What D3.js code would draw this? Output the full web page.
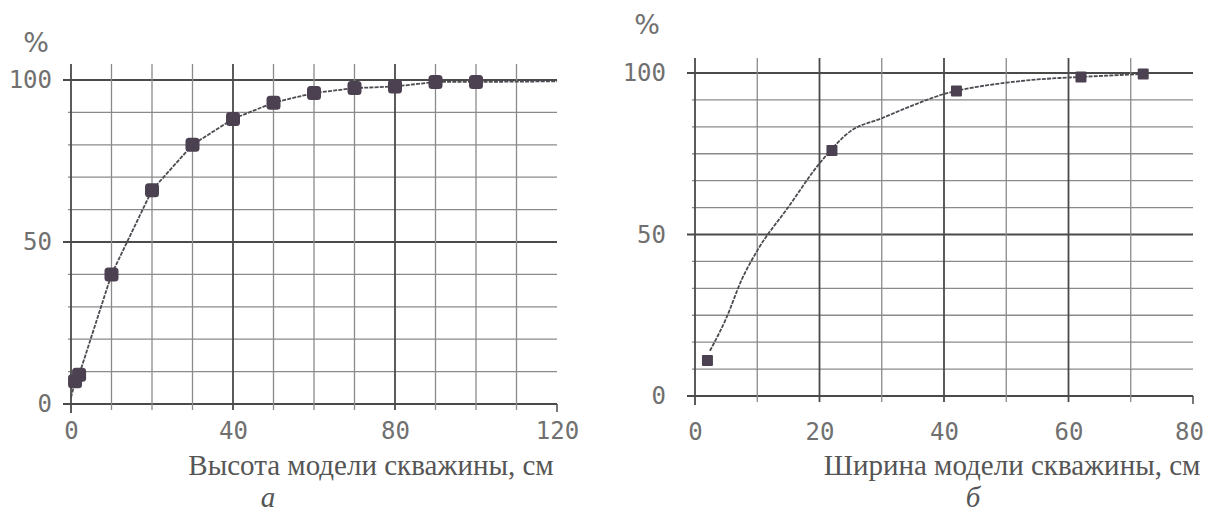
<!DOCTYPE html>
<html>
<head>
<meta charset="utf-8">
<script src="https://cdn.jsdelivr.net/npm/d3@7"></script>
<style>
  body { margin: 0; background: #fff; }
  svg { display: block; }
</style>
</head>
<body>
<svg id="chart" width="1206" height="515"></svg>
<script>
// panel a: height of the well model
var leftX = [1, 2, 10, 20, 30, 40, 50, 60, 70, 80, 90, 100];
var leftY = [7, 9, 40, 66, 80, 88, 93, 96, 97.5, 98, 99.4, 99.4];
var leftLineX = [0, 1, 2, 10, 20, 30, 40, 50, 60, 70, 80, 90, 100, 120];
var leftLineY = [2, 7, 9, 40, 66, 80, 88, 93, 96, 97.5, 98, 99.4, 99.4, 99.6];
var leftXTicks = [0, 40, 80, 120];
var leftYTicks = [0, 50, 100];

// panel б: width of the well model
var rightX = [2, 22, 42, 62, 72];
var rightY = [11, 76, 94.4, 98.8, 99.7];
var rightLineX = [2.4, 5, 7.5, 10, 15, 20, 25, 30, 35, 40, 45, 50, 55, 60, 62, 72];
var rightLineY = [14, 24, 36, 45, 58.5, 72, 82, 86, 90, 93.5, 95.6, 97, 98, 98.6, 98.8, 99.7];
var rightXTicks = [0, 20, 40, 60, 80];
var rightYTicks = [0, 50, 100];

var svg = d3.select('#chart');

function drawPanel (p)
{
    let x = d3.scaleLinear().domain([0, p.xMax]).range([p.left, p.right]);
    let y = d3.scaleLinear().domain([0, 100]).range([p.bottom, p.top]);
    let g = svg.append('g');

    // horizontal grid
    p.yGrid.forEach(function (v) {
        let major = p.yTicks.indexOf(Math.round(v * 100) / 100) >= 0;
        g.append('line')
            .attr('x1', major ? p.left - 8 : p.left - 3)
            .attr('x2', p.right)
            .attr('y1', y(v)).attr('y2', y(v))
            .attr('stroke', major ? '#4a4a4a' : '#8a8a8a')
            .attr('stroke-width', major ? 2 : 1.3);
    });

    // vertical grid
    p.xGrid.forEach(function (v) {
        let major = p.xMajor.indexOf(v) >= 0;
        g.append('line')
            .attr('x1', x(v)).attr('x2', x(v))
            .attr('y1', p.top - p.over)
            .attr('y2', v === 0 ? p.bottom + 9 : p.bottom + 6)
            .attr('stroke', major ? '#4a4a4a' : '#8a8a8a')
            .attr('stroke-width', major ? 1.8 : 1.3);
    });
    // end tick
    g.append('line')
        .attr('x1', x(p.xMax)).attr('x2', x(p.xMax))
        .attr('y1', p.bottom).attr('y2', p.bottom + 8)
        .attr('stroke', '#4a4a4a').attr('stroke-width', 1.5);

    // axes labels via d3 axes
    let ax = g.append('g')
        .attr('transform', 'translate(0,' + p.bottom + ')')
        .call(d3.axisBottom(x).tickValues(p.xTicks).tickSize(0).tickPadding(p.xPad));
    let ay = g.append('g')
        .attr('transform', 'translate(' + p.left + ',0)')
        .call(d3.axisLeft(y).tickValues(p.yTicks).tickSize(0).tickPadding(p.yPad));
    [ax, ay].forEach(function (a) {
        a.select('.domain').remove();
        a.selectAll('text')
            .attr('font-family', 'DejaVu Sans Mono')
            .attr('font-size', 24)
            .attr('fill', '#707070');
    });
    // keep the last x label inside the page
    ax.selectAll('text').filter(d => d === p.xMax).attr('dx', p.lastDx);

    g.append('text')
        .attr('x', p.pctX).attr('y', p.pctY)
        .attr('text-anchor', 'middle')
        .attr('font-family', 'DejaVu Sans')
        .attr('font-size', 27)
        .attr('fill', '#707070')
        .text('%');

    // curve
    let pts = p.lineX.map(function (d, i) { return [d, p.lineY[i]]; });
    g.append('path')
        .attr('d', d3.line().x(d => x(d[0])).y(d => y(d[1])).curve(p.curve)(pts))
        .attr('fill', 'none')
        .attr('stroke', '#4f4a52')
        .attr('stroke-width', 1.8)
        .attr('stroke-dasharray', '4,1.2');

    // markers
    g.selectAll('rect.mk')
        .data(p.xs.map(function (d, i) { return [d, p.ys[i]]; }))
        .enter().append('rect')
        .attr('class', 'mk')
        .attr('x', d => x(d[0]) - p.mk / 2)
        .attr('y', d => y(d[1]) - p.mk / 2)
        .attr('width', p.mk).attr('height', p.mk)
        .attr('rx', p.mkR)
        .attr('fill', '#4b4150');

    // titles
    g.append('text')
        .attr('x', p.titleX).attr('y', p.titleY)
        .attr('text-anchor', 'middle')
        .attr('font-family', 'Liberation Serif')
        .attr('font-size', 29)
        .attr('fill', '#555')
        .text(p.title);
    g.append('text')
        .attr('x', p.letterX).attr('y', p.letterY)
        .attr('text-anchor', 'middle')
        .attr('font-family', 'Liberation Serif')
        .attr('font-style', 'italic')
        .attr('font-size', 29)
        .attr('fill', '#555')
        .text(p.letter);
}

drawPanel({
    xMax: 120, left: 71, right: 557, top: 80, bottom: 404, over: 16,
    xGrid: d3.range(0, 120, 10), xMajor: [0, 40, 80],
    yGrid: d3.range(0, 101, 10), xTicks: leftXTicks, yTicks: leftYTicks,
    xPad: 18, yPad: 19, lastDx: 0,
    lineX: leftLineX, lineY: leftLineY, curve: d3.curveLinear,
    xs: leftX, ys: leftY, mk: 14, mkR: 3.5,
    pctX: 36, pctY: 52,
    title: 'Высота модели скважины, см', titleX: 371, titleY: 475,
    letter: 'а', letterX: 268, letterY: 507
});

drawPanel({
    xMax: 80, left: 695, right: 1193, top: 73, bottom: 396, over: 15,
    xGrid: d3.range(0, 80, 10), xMajor: [0, 20, 40, 60],
    yGrid: d3.range(0, 12.5).map(function (i) { return i * 100 / 12; }),
    xTicks: rightXTicks, yTicks: rightYTicks,
    xPad: 27, yPad: 29, lastDx: -4,
    lineX: rightLineX, lineY: rightLineY, curve: d3.curveMonotoneX,
    xs: rightX, ys: rightY, mk: 11, mkR: 1,
    pctX: 647, pctY: 34,
    title: 'Ширина модели скважины, см', titleX: 1012, titleY: 475,
    letter: 'б', letterX: 973, letterY: 507
});
</script>
</body>
</html>
